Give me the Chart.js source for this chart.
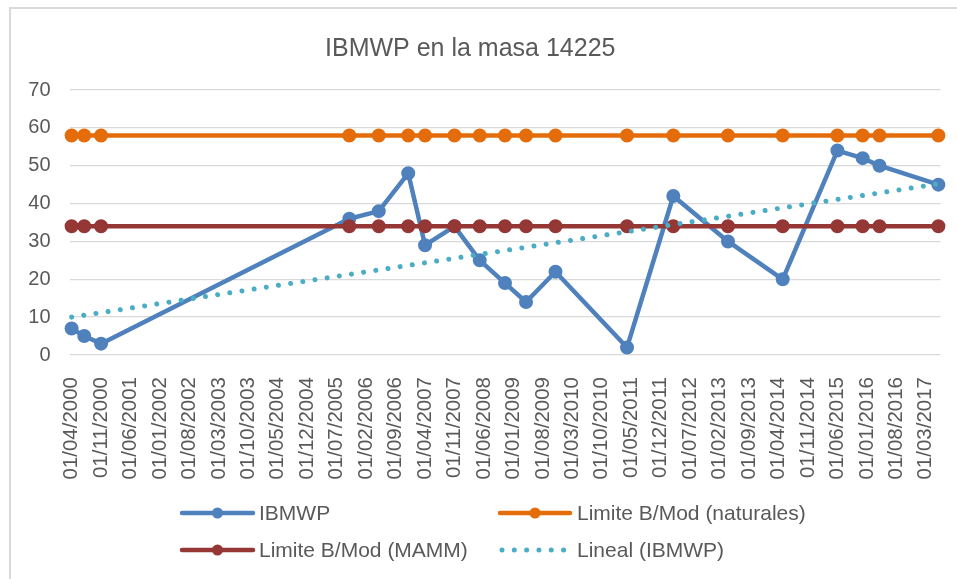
<!DOCTYPE html>
<html lang="es">
<head>
<meta charset="utf-8">
<title>IBMWP en la masa 14225</title>
<script src="https://cdn.jsdelivr.net/npm/chart.js@4/dist/chart.umd.min.js"></script>
<style>
  body { margin: 0; background: #fff; }
  #marco { position: absolute; left: 9px; top: 7px; width: 960px; height: 580px; border-top: 2px solid #d9d9d9; border-left: 2px solid #d9d9d9; }
  #grafica { position: absolute; left: 0; top: 0; }
</style>
</head>
<body>
<div id="marco"></div>
<canvas id="grafica" width="957" height="579"></canvas>
<script>
// Fechas de muestreo (dd/mm/aaaa)
var fechas = ["01/04/2000", "01/07/2000", "01/11/2000", "01/10/2005", "01/05/2006",
              "01/12/2006", "01/04/2007", "01/11/2007", "01/05/2008", "01/11/2008",
              "01/04/2009", "01/11/2009", "01/04/2011", "01/03/2012", "01/04/2013",
              "01/05/2014", "01/06/2015", "01/12/2015", "01/04/2016", "01/06/2017"];

// Valores
var ibmwp = [7, 5, 3, 36, 38, 48, 29, 34, 25, 19, 14, 22, 2, 42, 30, 20, 54, 52, 50, 45];
var limiteNaturales = [58, 58, 58, 58, 58, 58, 58, 58, 58, 58, 58, 58, 58, 58, 58, 58, 58, 58, 58, 58];
var limiteMAMM = [34, 34, 34, 34, 34, 34, 34, 34, 34, 34, 34, 34, 34, 34, 34, 34, 34, 34, 34, 34];

// Linea de tendencia (extremos)
var fechasTendencia = ["01/04/2000", "01/06/2017"];
var tendencia = [10, 45.2];

// Etiquetas del eje X (cada 7 meses)
var etiquetasEje = ["01/04/2000", "01/11/2000", "01/06/2001", "01/01/2002", "01/08/2002",
                    "01/03/2003", "01/10/2003", "01/05/2004", "01/12/2004", "01/07/2005",
                    "01/02/2006", "01/09/2006", "01/04/2007", "01/11/2007", "01/06/2008",
                    "01/01/2009", "01/08/2009", "01/03/2010", "01/10/2010", "01/05/2011",
                    "01/12/2011", "01/07/2012", "01/02/2013", "01/09/2013", "01/04/2014",
                    "01/11/2014", "01/06/2015", "01/01/2016", "01/08/2016", "01/03/2017"];

// Convierte una fecha dd/mm/aaaa en meses desde abril de 2000
function mesIndice(fecha) {
    var partes = fecha.split("/");
    return (parseInt(partes[2], 10) - 2000) * 12 + parseInt(partes[1], 10) - 4;
}

function puntos(fs, vs) {
    return fs.map(function (f, i) { return { x: mesIndice(f), y: vs[i] }; });
}

var posicionesEje = etiquetasEje.map(mesIndice);
var gris = "#595959";
var fuente = '"Liberation Sans", Arial, sans-serif';

// Leyenda en dos columnas, como en Excel
var leyendaExcel = {
    id: "leyendaExcel",
    afterDraw: function (chart) {
        var ctx = chart.ctx;
        var items = [
            { ds: 0, x0: 182, x1: 253, y: 513, tx: 259 },
            { ds: 1, x0: 500, x1: 570, y: 513, tx: 577 },
            { ds: 2, x0: 182, x1: 253, y: 550, tx: 259 },
            { ds: 3, x0: 502, x1: 566, y: 550, tx: 577 }
        ];
        items.forEach(function (it) {
            var ds = chart.data.datasets[it.ds];
            ctx.save();
            ctx.strokeStyle = ds.borderColor;
            ctx.lineWidth = ds.borderWidth;
            ctx.lineCap = "round";
            if (ds.borderDash) ctx.setLineDash(ds.borderDash);
            ctx.beginPath();
            ctx.moveTo(it.x0, it.y);
            ctx.lineTo(it.x1, it.y);
            ctx.stroke();
            ctx.setLineDash([]);
            if (ds.pointRadius > 0) {
                ctx.fillStyle = ds.borderColor;
                ctx.beginPath();
                ctx.arc((it.x0 + it.x1) / 2, it.y, 5.5, 0, Math.PI * 2);
                ctx.fill();
            }
            ctx.fillStyle = gris;
            ctx.font = "21px " + fuente;
            ctx.textBaseline = "middle";
            ctx.textAlign = "left";
            ctx.fillText(ds.label, it.tx, it.y + 1);
            ctx.restore();
        });
    }
};

var ctx = document.getElementById("grafica").getContext("2d");

window.grafica = new Chart(ctx, {
    type: "line",
    data: {
        datasets: [{
            label: "IBMWP",
            data: puntos(fechas, ibmwp),
            borderColor: "#4f81bd",
            backgroundColor: "#4f81bd",
            borderWidth: 4.5,
            pointRadius: 6,
            pointBorderWidth: 2,
            borderJoinStyle: "round",
            borderCapStyle: "round",
            clip: false,
            order: 4
        }, {
            label: "Limite B/Mod (naturales)",
            data: puntos(fechas, limiteNaturales),
            borderColor: "#e46c0a",
            backgroundColor: "#e46c0a",
            borderWidth: 4.5,
            pointRadius: 6,
            pointBorderWidth: 2,
            clip: false,
            order: 3
        }, {
            label: "Limite B/Mod (MAMM)",
            data: puntos(fechas, limiteMAMM),
            borderColor: "#953735",
            backgroundColor: "#953735",
            borderWidth: 4.5,
            pointRadius: 6,
            pointBorderWidth: 2,
            clip: false,
            order: 2
        }, {
            label: "Lineal (IBMWP)",
            data: puntos(fechasTendencia, tendencia),
            borderColor: "#4bacc6",
            backgroundColor: "#4bacc6",
            borderWidth: 5,
            borderDash: [0.01, 12.3],
            borderCapStyle: "round",
            pointRadius: 0,
            clip: false,
            order: 1
        }]
    },
    options: {
        responsive: false,
        animation: false,
        devicePixelRatio: 1,
        layout: { padding: { left: 0, right: 16.5, top: 0, bottom: 0 } },
        scales: {
            x: {
                type: "linear",
                min: -0.5,
                max: 206.5,
                grid: { display: false },
                border: { display: false },
                afterBuildTicks: function (scale) {
                    scale.ticks = posicionesEje.map(function (v) { return { value: v }; });
                },
                afterFit: function (scale) {
                    scale.height = 224;
                    scale.paddingLeft = 0;
                    scale.paddingRight = 0;
                },
                ticks: {
                    autoSkip: false,
                    maxRotation: 90,
                    minRotation: 90,
                    padding: 14,
                    color: gris,
                    font: { size: 20.5, family: fuente },
                    callback: function (value) {
                        var i = posicionesEje.indexOf(value);
                        return i >= 0 ? etiquetasEje[i] : "";
                    }
                }
            },
            y: {
                min: 0,
                max: 70,
                grid: { color: "#d9d9d9", lineWidth: 1.3, drawTicks: false },
                border: { display: false },
                afterFit: function (scale) {
                    scale.width = 69.5;
                    scale.paddingTop = 0;
                    scale.paddingBottom = 0;
                },
                ticks: {
                    stepSize: 10,
                    padding: 19,
                    color: gris,
                    font: { size: 20, family: fuente }
                }
            }
        },
        plugins: {
            legend: { display: false },
            tooltip: { enabled: false },
            title: {
                display: true,
                text: "IBMWP en la masa 14225",
                color: gris,
                font: { size: 25, family: fuente, weight: "normal" },
                padding: { top: 34, bottom: 26 }
            }
        }
    },
    plugins: [leyendaExcel]
});
</script>
</body>
</html>
